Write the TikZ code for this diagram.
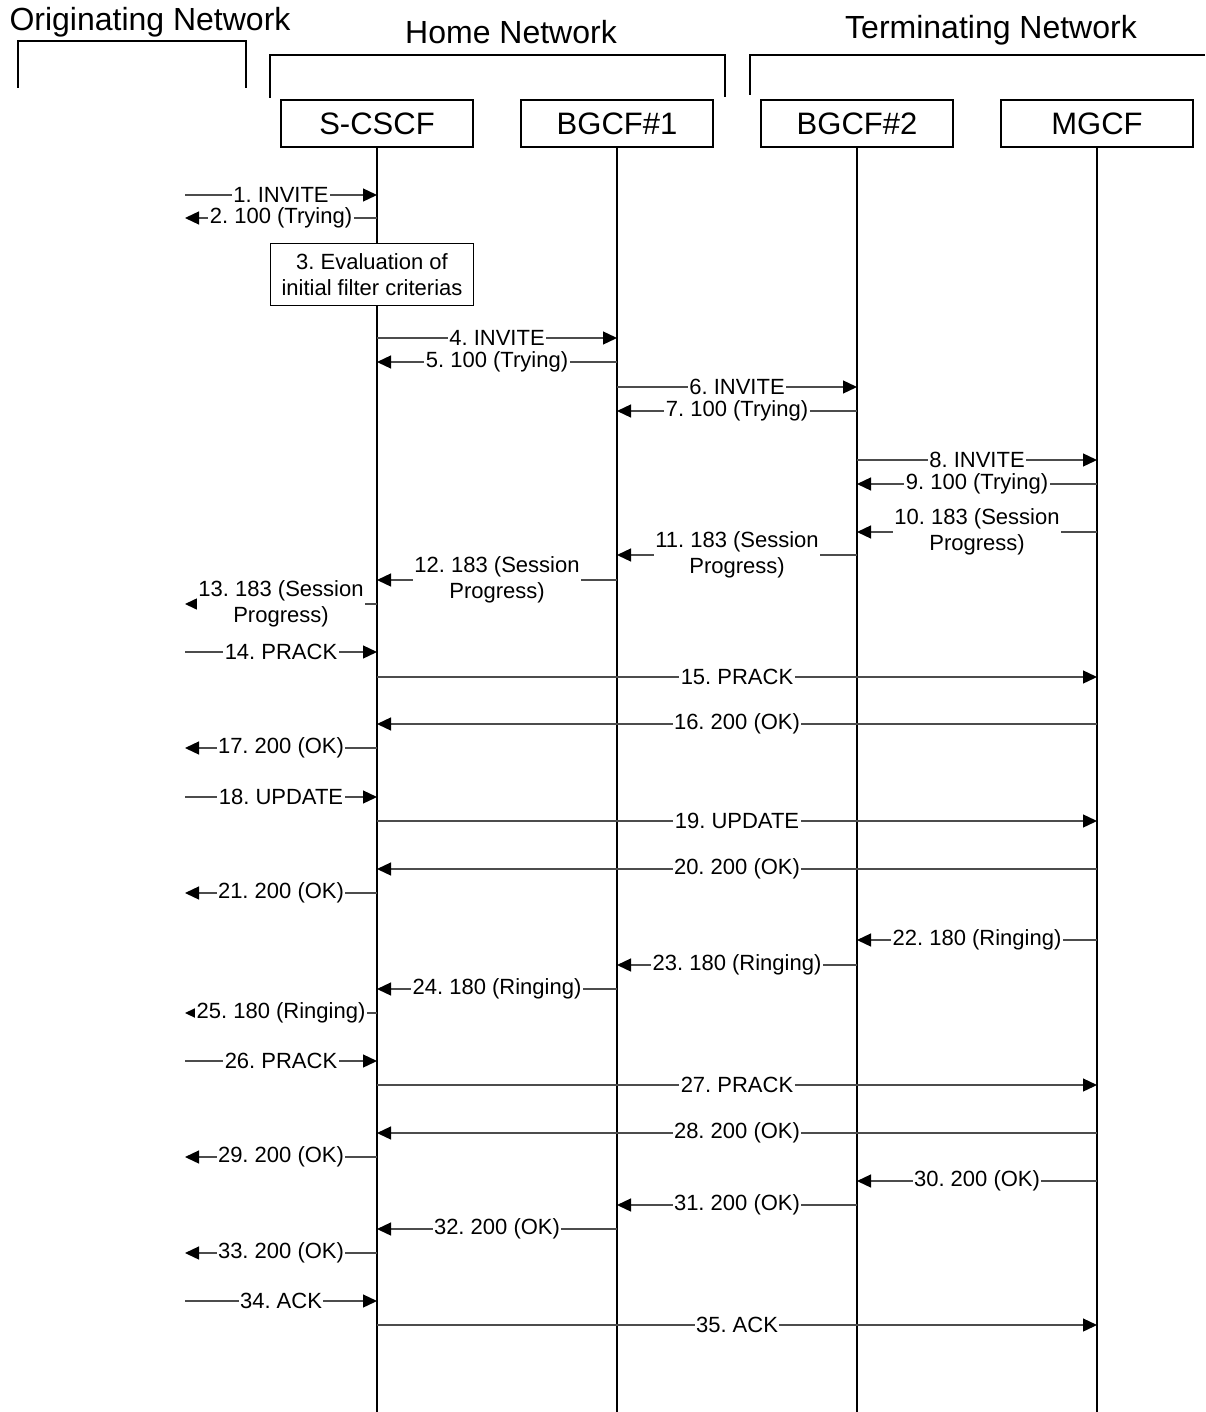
\documentclass[tikz,border=0pt]{standalone}
\usepackage{fontspec}
\setmainfont{Liberation Sans}
\usetikzlibrary{positioning,arrows.meta}
\frenchspacing

\begin{document}
\begin{tikzpicture}[
  x=1pt, y=-1pt,
  every node/.style={align=center},
  ent/.style={draw, line width=1.3pt, minimum width=192pt, minimum height=47pt, inner sep=0pt, outer sep=0pt, font=\fontsize{31}{36}\selectfont},
  act/.style={draw, line width=1.3pt, fill=white, minimum width=203pt, minimum height=62pt, inner sep=0pt, font=\fontsize{22}{26}\selectfont},
  net/.style={font=\fontsize{32}{38}\selectfont},
  life/.style={line width=1.8pt},
  brk/.style={line width=1.5pt},
  msg/.style={-{Triangle[length=14pt,width=13pt,black]}, line width=1.3pt, black!70},
  lbl/.style={fill=white, inner sep=1.5pt, text=black, font=\fontsize{22}{26}\selectfont}
]
\useasboundingbox (0,0) rectangle (1205,1412);

% network headings and brackets
\node[net] (origT) at (150,22) {Originating Network};
\node[net] (homeT) at (511,32) {Home Network};
\node[net] (termT) at (991,30) {Terminating Network};
\draw[brk] (18,88) |- (246,41) -- (246,88);
\draw[brk] (270,98) |- (725,55) -- (725,97);
\draw[brk] (750,95) |- (1205,55);

% entities
\node[ent] (sc) at (377,123.5) {S-CSCF};
\node[ent, right=48pt of sc] (b1) {BGCF\#1};
\node[ent, right=48pt of b1] (b2) {BGCF\#2};
\node[ent, right=48pt of b2] (mg) {MGCF};
\coordinate (orig) at (185,0);

\foreach \n in {sc,b1,b2,mg} {
  \coordinate (\n End) at (\n |- 0,1412);
  \draw[life] (\n.south) -- (\n End);
}

\node[act, below=96pt of sc, xshift=-5pt] (eval) {3. Evaluation of\\initial filter criterias};

% messages
\foreach \y/\a/\b/\t in {
  195/orig/sc/{1. INVITE},
  218/sc/orig/{2. 100 (Trying)},
  338/sc/b1/{4. INVITE},
  362/b1/sc/{5. 100 (Trying)},
  387/b1/b2/{6. INVITE},
  411/b2/b1/{7. 100 (Trying)},
  460/b2/mg/{8. INVITE},
  484/mg/b2/{9. 100 (Trying)},
  532/mg/b2/{10. 183 (Session\\Progress)},
  555/b2/b1/{11. 183 (Session\\Progress)},
  580/b1/sc/{12. 183 (Session\\Progress)},
  604/sc/orig/{13. 183 (Session\\Progress)},
  652/orig/sc/{14. PRACK},
  677/sc/mg/{15. PRACK},
  724/mg/sc/{16. 200 (OK)},
  748/sc/orig/{17. 200 (OK)},
  797/orig/sc/{18. UPDATE},
  821/sc/mg/{19. UPDATE},
  869/mg/sc/{20. 200 (OK)},
  893/sc/orig/{21. 200 (OK)},
  940/mg/b2/{22. 180 (Ringing)},
  965/b2/b1/{23. 180 (Ringing)},
  989/b1/sc/{24. 180 (Ringing)},
  1013/sc/orig/{25. 180 (Ringing)},
  1061/orig/sc/{26. PRACK},
  1085/sc/mg/{27. PRACK},
  1133/mg/sc/{28. 200 (OK)},
  1157/sc/orig/{29. 200 (OK)},
  1181/mg/b2/{30. 200 (OK)},
  1205/b2/b1/{31. 200 (OK)},
  1229/b1/sc/{32. 200 (OK)},
  1253/sc/orig/{33. 200 (OK)},
  1301/orig/sc/{34. ACK},
  1325/sc/mg/{35. ACK}}
  \draw[msg] (\a |- 0,\y) -- node[lbl]{\t} (\b |- 0,\y);
\end{tikzpicture}
\end{document}
